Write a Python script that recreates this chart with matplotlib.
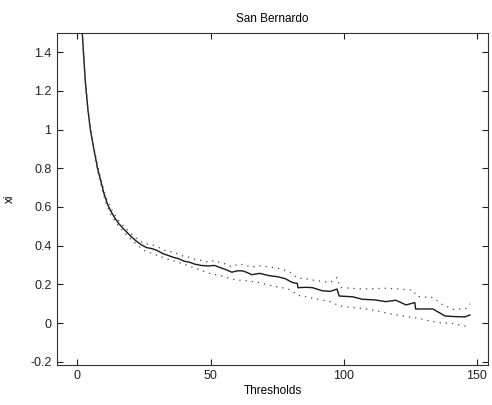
import matplotlib
matplotlib.use("Agg")
import matplotlib.pyplot as plt

# main estimate
thr = [1.6, 2.3, 3.0, 4.0, 4.9, 6.2, 7.6, 8.7, 10.0, 11.3, 12.5, 14.0, 15.5, 17.5,
       20.0, 22.0, 24.0, 26.0, 28.0, 30.0, 32.0, 34.0, 36.0, 38.0, 40.0, 42.0, 44.0,
       46.5, 49.0, 51.5, 54.0, 56.0, 58.0, 60.0, 62.0, 64.0, 65.5, 68.5, 72.0, 75.0,
       78.0, 80.7, 82.6, 82.8, 86.0, 88.3, 92.0, 95.0, 97.5, 98.3, 103.4, 107.0,
       111.7, 115.8, 119.6, 123.4, 126.7, 127.0, 133.5, 138.0, 141.0, 145.5, 147.4]
xi = [1.56, 1.40, 1.25, 1.10, 1.00, 0.90, 0.80, 0.74, 0.67, 0.615, 0.58, 0.545, 0.515, 0.485,
      0.45, 0.425, 0.405, 0.39, 0.385, 0.375, 0.36, 0.35, 0.34, 0.333, 0.32, 0.315, 0.305,
      0.298, 0.295, 0.298, 0.285, 0.275, 0.263, 0.27, 0.27, 0.26, 0.25, 0.257, 0.245, 0.24,
      0.23, 0.21, 0.205, 0.183, 0.185, 0.183, 0.167, 0.164, 0.176, 0.14, 0.136, 0.123,
      0.12, 0.111, 0.118, 0.094, 0.106, 0.073, 0.073, 0.037, 0.034, 0.032, 0.042]

# upper confidence band
thr_up = [1.6, 2.3, 3.0, 4.0, 5.0, 6.2, 7.6, 8.7, 10.0, 11.3, 12.5, 14.0, 15.5, 17.5,
          20.0, 22.0, 24.0, 26.0, 28.0, 30.0, 32.0, 34.0, 36.4, 38.0, 40.0, 42.0, 44.0,
          46.6, 49.0, 51.6, 54.0, 56.0, 58.0, 60.5, 63.0, 65.5, 68.0, 72.0, 75.0, 78.0,
          80.0, 82.6, 86.0, 90.0, 95.0, 97.5, 98.7, 103.0, 107.0, 111.0, 115.8, 120.0,
          126.0, 127.5, 133.5, 136.8, 141.0, 146.0, 147.4]
xi_up = [1.57, 1.41, 1.26, 1.11, 1.01, 0.91, 0.815, 0.755, 0.685, 0.63, 0.595, 0.56,
         0.53, 0.5, 0.465, 0.44, 0.42, 0.41, 0.405, 0.395, 0.38, 0.37, 0.367, 0.355,
         0.345, 0.34, 0.33, 0.324, 0.315, 0.324, 0.31, 0.305, 0.29, 0.306, 0.3, 0.289,
         0.297, 0.29, 0.285, 0.272, 0.262, 0.233, 0.228, 0.219, 0.21, 0.236, 0.184, 0.18,
         0.176, 0.178, 0.18, 0.177, 0.17, 0.138, 0.132, 0.098, 0.071, 0.075, 0.1]

# lower confidence band
thr_lo = [1.6, 2.3, 3.0, 4.0, 5.0, 6.2, 7.6, 8.7, 10.0, 11.3, 12.5, 14.0, 15.5, 17.5,
          20.0, 22.0, 25.0, 28.0, 31.0, 34.0, 37.8, 41.0, 44.0, 47.0, 50.4, 54.0, 58.0,
          60.0, 63.0, 68.0, 73.0, 78.0, 80.5, 82.6, 86.0, 90.6, 95.0, 98.5, 104.0, 109.5,
          114.0, 118.5, 123.0, 128.4, 132.0, 136.0, 141.0, 147.4]
xi_lo = [1.55, 1.39, 1.24, 1.09, 0.99, 0.89, 0.785, 0.725, 0.655, 0.6, 0.565, 0.53,
         0.5, 0.47, 0.435, 0.41, 0.376, 0.36, 0.345, 0.33, 0.315, 0.3, 0.285, 0.27,
         0.254, 0.245, 0.228, 0.222, 0.22, 0.21, 0.193, 0.18, 0.17, 0.144, 0.135, 0.123,
         0.11, 0.089, 0.08, 0.071, 0.058, 0.045, 0.035, 0.024, 0.012, 0.002, -0.002, -0.021]

xticks = [0, 50, 100, 150]
yticks = [-0.2, 0, 0.2, 0.4, 0.6, 0.8, 1.0, 1.2, 1.4]
ytick_labels = ["-0.2", "0", "0.2", "0.4", "0.6", "0.8", "1", "1.2", "1.4"]

plt.rcParams['font.family'] = ['Liberation Sans', 'DejaVu Sans']
fig = plt.figure(figsize=(4.92, 4.05), dpi=100)
ax = fig.add_axes([0.116, 0.099, 0.876, 0.82])

ax.plot(thr, xi, color='#1a1a1a', lw=1.0)
ax.plot(thr_up, xi_up, color='#444444', lw=0.9, linestyle=(0, (1, 4)))
ax.plot(thr_lo, xi_lo, color='#444444', lw=0.9, linestyle=(0, (1, 4)))

ax.set_xlim(-7.6, 154.2)
ax.set_ylim(-0.216, 1.5)
ax.set_xticks(xticks)
ax.set_yticks(yticks)
ax.set_yticklabels(ytick_labels)
ax.tick_params(direction='in', length=4, width=0.8, top=True, right=True,
               labelsize=9, colors='#222222', pad=4)
for s in ax.spines.values():
    s.set_linewidth(0.8)
    s.set_color('#333333')

ax.set_title("San Bernardo", fontsize=8.5, pad=8)
ax.set_xlabel("Thresholds", fontsize=8.5, labelpad=2)
ax.set_ylabel("xi", fontsize=8.5, labelpad=10)

fig.savefig("out.png", dpi=100)
